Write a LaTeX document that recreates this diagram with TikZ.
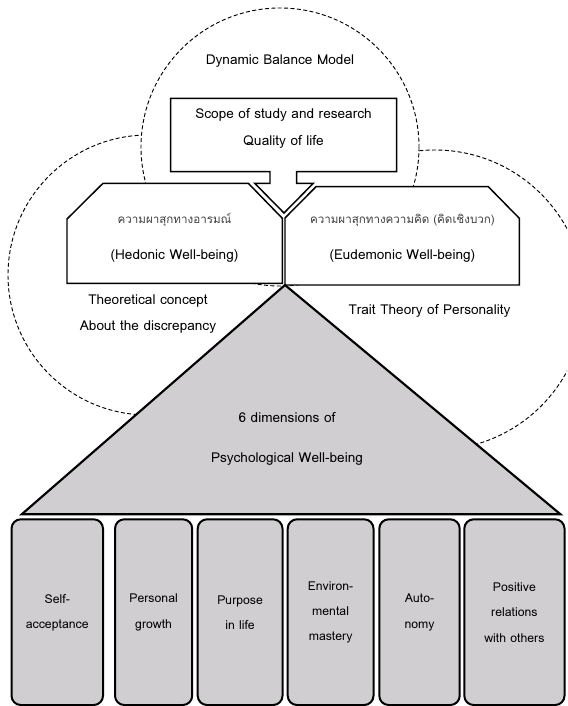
\documentclass[tikz,border=0pt]{standalone}
\usepackage{fontspec}
\setmainfont[Script=Thai]{Loma}
\definecolor{PwbGray}{RGB}{208,206,208}

\begin{document}
\begin{tikzpicture}[x=0.75pt, y=-0.75pt, font=\fontsize{10.2}{18}\selectfont,
DashCircle/.style={draw, fill=white, line width=0.7pt, dash pattern=on 3pt off 1.8pt},
WellBox/.style={draw, fill=white, line width=1.1pt},
DimBox/.style={draw, fill=PwbGray, line width=1.5pt, rounded corners=7pt},
Label/.style={align=center, inner sep=0pt},
ThaiLabel/.style={Label, text=black!75, font=\fontsize{8.7}{18}\selectfont}]
\useasboundingbox (0,0) rectangle (567,706);
\clip (0,0) rectangle (567,706);

% the three theories; the top circle hides the inner parts of the other two
\draw[DashCircle] (148,275) circle[radius=140];
\draw[DashCircle] (435,300) circle[radius=150];
\draw[DashCircle] (280,147) circle[radius=139];

\node[Label] (model) at (280,61) {Dynamic Balance Model};
\node[Label] (theory) at (148,314) {Theoretical concept\\[2pt]About the discrepancy};
\node[Label] (trait) at (429.5,310.7) {Trait Theory of Personality};

% hedonic and eudemonic boxes with cut top corners
\draw[WellBox] (103,183.3) -- (248.3,183.3) -- (282.3,218.3) -- (282.3,283.3)
  -- (67,283.3) -- (67,219) -- cycle;
\draw[WellBox] (316,186.7) -- (488.3,186.7) -- (519.3,218.3) -- (519.3,285)
  -- (285,285) -- (285,218) -- cycle;
\node[ThaiLabel] (hedonicTh) at (174.5,220) {ความผาสุกทางอารมณ์};
\node[Label] (hedonic) at (174.5,256) {(Hedonic Well-being)};
\node[ThaiLabel] (eudemonicTh) at (402.4,220) {ความผาสุกทางความคิด (คิดเชิงบวก)};
\node[Label] (eudemonic) at (402.4,256) {(Eudemonic Well-being)};

% callout pointing down between the two boxes
\draw[WellBox] (170.7,98.3) -- (396.7,98.3) -- (396.7,171.7) -- (296.7,171.7)
  -- (296.7,183.3) -- (313.3,183.3) -- (284,213) -- (254.7,183.3)
  -- (270,183.3) -- (270,171.7) -- (170.7,171.7) -- cycle;
\node[Label] (scope) at (283.5,128.7) {Scope of study and research\\[2pt]Quality of life};

% pyramid
\draw[fill=PwbGray, line width=1.6pt, line join=miter] (285,285) -- (560.5,514.3) -- (21.7,514.3) -- cycle;
\node[Label] (pwb) at (287,439.3) {6 dimensions of\\[12pt]Psychological Well-being};

% the six dimensions
\foreach \name/\xl/\xr/\txt in {
  self/11.5/103/{Self-\\acceptance},
  growth/115/192.2/{Personal\\growth},
  purpose/197.7/282.5/{Purpose\\in life},
  mastery/287.7/373.5/{Environ-\\mental\\mastery},
  autonomy/379.3/459.7/{Auto-\\nomy},
  relations/464.3/564.5/{Positive\\relations\\with others}%
} {
  \draw[DimBox] (\xl,519.3) rectangle (\xr,705);
  \node[Label, font=\fontsize{9.2}{19}\selectfont] (\name) at ({(\xl+\xr)/2},612.5) {\txt};
}
\end{tikzpicture}
\end{document}
